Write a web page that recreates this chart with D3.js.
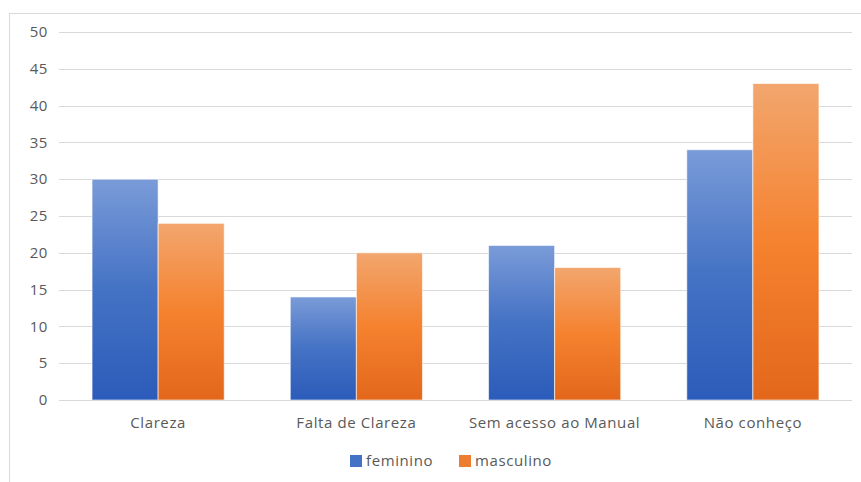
<!DOCTYPE html>
<html>
<head>
<meta charset="utf-8">
<script src="https://cdn.jsdelivr.net/npm/d3@7"></script>
<style>
  body { margin: 0; background: #fff; }
  text { font-family: "Open Sans", "Noto Sans", sans-serif; fill: #595959; letter-spacing: 0.6px; }
</style>
</head>
<body>
<div id="content"></div>
<script>
// data
var categories = ["Clareza", "Falta de Clareza", "Sem acesso ao Manual", "Não conheço"];
var seriesNames = ["feminino", "masculino"];
var feminino = [30, 14, 21, 34];
var masculino = [24, 20, 18, 43];
var yTicks = [0, 5, 10, 15, 20, 25, 30, 35, 40, 45, 50];

var W = 861, H = 482;
var svg = d3.select("#content").append("svg")
    .attr("width", W)
    .attr("height", H);

// gradients
var defs = svg.append("defs");
var grads = [
  {id: "gBlue", stops: ["#7a9bd8", "#4472c4", "#2c5cba"]},
  {id: "gOrange", stops: ["#f2a66e", "#f5822f", "#e3671b"]}
];
grads.forEach(function(g){
  var lg = defs.append("linearGradient").attr("id", g.id)
      .attr("x1", 0).attr("y1", 0).attr("x2", 0).attr("y2", 1);
  lg.append("stop").attr("offset", "0%").attr("stop-color", g.stops[0]);
  lg.append("stop").attr("offset", "50%").attr("stop-color", g.stops[1]);
  lg.append("stop").attr("offset", "100%").attr("stop-color", g.stops[2]);
});

//Wrapper border
svg.append("rect")
    .attr("x", 9.5)
    .attr("y", 13.5)
    .attr("width", 860)
    .attr("height", 480)
    .attr("fill", "none")
    .attr("stroke", "#d9d9d9");

var pLeft = 59, pRight = 852, pTop = 32, pBottom = 400;

var x = d3.scaleBand().domain(categories).range([pLeft, pRight]).paddingInner(1/3).paddingOuter(1/6);
var xs = d3.scaleBand().domain(seriesNames).range([0, x.bandwidth()]);
var y = d3.scaleLinear().domain([0, 50]).range([pBottom, pTop]);

// grid
svg.append("g").selectAll("line").data(yTicks).join("line")
    .attr("x1", pLeft).attr("x2", pRight)
    .attr("y1", function(d){ return Math.round(y(d)) + 0.5; })
    .attr("y2", function(d){ return Math.round(y(d)) + 0.5; })
    .attr("stroke", "#d9d9d9")
    .attr("stroke-width", 1);

// y labels
svg.append("g").selectAll("text").data(yTicks).join("text")
    .attr("x", 48)
    .attr("y", function(d){ return y(d); })
    .attr("dy", "0.35em")
    .attr("text-anchor", "end")
    .style("font-size", "15px")
    .text(function(d){ return d; });

// bars
var series = [
  {name: "feminino", values: feminino, fill: "url(#gBlue)"},
  {name: "masculino", values: masculino, fill: "url(#gOrange)"}
];
series.forEach(function(s){
  svg.append("g").selectAll("rect").data(s.values).join("rect")
      .attr("x", function(d, i){ return x(categories[i]) + xs(s.name); })
      .attr("y", function(d){ return y(d); })
      .attr("width", xs.bandwidth())
      .attr("height", function(d){ return pBottom - y(d); })
      .attr("fill", s.fill)
      .attr("stroke", "#ffffff")
      .attr("stroke-opacity", 0.6)
      .attr("stroke-width", 1);
});

// baseline
svg.append("line")
    .attr("x1", pLeft).attr("x2", pRight)
    .attr("y1", pBottom + 0.5).attr("y2", pBottom + 0.5)
    .attr("stroke", "#d9d9d9");

// x labels
svg.append("g").selectAll("text").data(categories).join("text")
    .attr("x", function(d){ return x(d) + x.bandwidth() / 2; })
    .attr("y", 428)
    .attr("text-anchor", "middle")
    .style("font-size", "15px")
    .text(function(d){ return d; });

// legend
var legend = [
  {name: "feminino", color: "#4472c4", x: 350},
  {name: "masculino", color: "#ed7d31", x: 459}
];
var lg = svg.append("g").selectAll("g").data(legend).join("g")
    .attr("transform", function(d){ return "translate(" + d.x + ",455)"; });
lg.append("rect")
    .attr("width", 12).attr("height", 12)
    .attr("fill", function(d){ return d.color; });
lg.append("text")
    .attr("x", 16).attr("y", 6).attr("dy", "0.35em")
    .style("font-size", "15px")
    .text(function(d){ return d.name; });
</script>
</body>
</html>
